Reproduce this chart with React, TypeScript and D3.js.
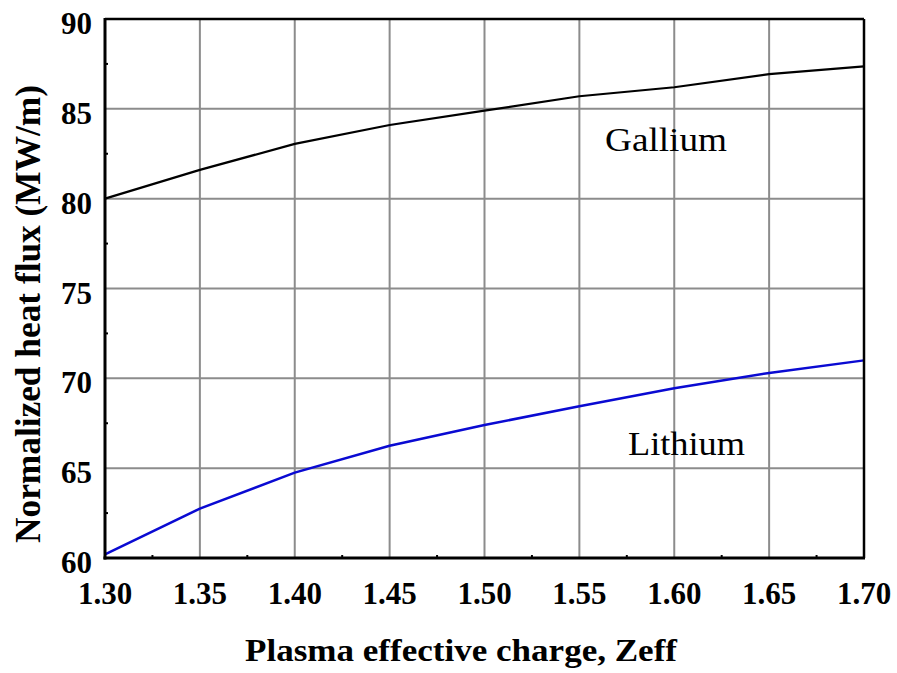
import React from "react";
import * as d3 from "d3";

// Plasma effective charge (Zeff) sample points
const zeff = [1.3, 1.35, 1.4, 1.45, 1.5, 1.55, 1.6, 1.65, 1.7];
// Normalized heat flux (MW/m) for each divertor liquid metal
const gallium = [80.0, 81.6, 83.05, 84.1, 84.9, 85.7, 86.2, 86.93, 87.36];
const lithium = [60.2, 62.75, 64.75, 66.25, 67.4, 68.45, 69.45, 70.3, 71.0];

const xTicks = [1.3, 1.35, 1.4, 1.45, 1.5, 1.55, 1.6, 1.65, 1.7];
const yTicks = [60, 65, 70, 75, 80, 85, 90];

const W = 897;
const H = 673;
const left = 105;
const right = 864;
const top = 19;
const bottom = 558;

export default function App() {
  const x = d3.scaleLinear().domain([1.3, 1.7]).range([left, right]);
  const y = d3.scaleLinear().domain([60, 90]).range([bottom, top]);

  const line = d3
    .line<number>()
    .x((_, i) => x(zeff[i]))
    .y((v) => y(v));

  const minorX = d3.range(8).map((i) => 1.325 + i * 0.05);
  const minorY = d3.range(6).map((i) => 62.5 + i * 5);

  const tickFont = "'Liberation Serif', 'Times New Roman', serif";

  return (
    <svg
      width={W}
      height={H}
      style={{ position: "absolute", left: 0, top: 0, background: "#fff" }}
    >
      {/* grid */}
      {xTicks.slice(1, -1).map((t) => (
        <line
          key={"gx" + t}
          x1={x(t)}
          x2={x(t)}
          y1={top}
          y2={bottom}
          stroke="#8c8c8c"
          strokeWidth={2}
        />
      ))}
      {yTicks.slice(1, -1).map((t) => (
        <line
          key={"gy" + t}
          x1={left}
          x2={right}
          y1={y(t)}
          y2={y(t)}
          stroke="#8c8c8c"
          strokeWidth={2}
        />
      ))}

      {/* minor ticks along the axes */}
      {minorX.map((t) => (
        <line
          key={"mx" + t}
          x1={x(t)}
          x2={x(t)}
          y1={bottom}
          y2={bottom - 3}
          stroke="#000"
          strokeWidth={2}
        />
      ))}
      {minorY.map((t) => (
        <line
          key={"my" + t}
          x1={left}
          x2={left + 3}
          y1={y(t)}
          y2={y(t)}
          stroke="#000"
          strokeWidth={2}
        />
      ))}

      {/* data lines */}
      <path d={line(gallium) ?? ""} fill="none" stroke="#000" strokeWidth={2.2} />
      <path d={line(lithium) ?? ""} fill="none" stroke="#0a0ad2" strokeWidth={2.5} />

      {/* frame */}
      <line x1={left} x2={right} y1={top} y2={top} stroke="#000" strokeWidth={2.5} />
      <line x1={right} x2={right} y1={top} y2={bottom} stroke="#000" strokeWidth={2.5} />
      <line x1={left} x2={left} y1={top - 1} y2={bottom + 1.5} stroke="#000" strokeWidth={3} />
      <line x1={left - 1.5} x2={right + 1} y1={bottom} y2={bottom} stroke="#000" strokeWidth={3} />

      {/* tick labels */}
      {yTicks.map((t) => (
        <text
          key={"ly" + t}
          x={left - 13}
          y={y(t) + 15}
          textAnchor="end"
          fontFamily={tickFont}
          fontWeight="bold"
          fontSize={31}
          fill="#000"
        >
          {t}
        </text>
      ))}
      {xTicks.map((t) => (
        <text
          key={"lx" + t}
          x={x(t)}
          y={604}
          textAnchor="middle"
          fontFamily={tickFont}
          fontWeight="bold"
          fontSize={31}
          fill="#000"
        >
          {t.toFixed(2)}
        </text>
      ))}

      {/* series labels */}
      <text
        x={605}
        y={151}
        fontFamily={tickFont}
        fontSize={33}
        textLength={122}
        lengthAdjust="spacingAndGlyphs"
        fill="#000"
      >
        Gallium
      </text>
      <text
        x={628}
        y={455}
        fontFamily={tickFont}
        fontSize={33}
        textLength={117}
        lengthAdjust="spacingAndGlyphs"
        fill="#000"
      >
        Lithium
      </text>

      {/* axis titles */}
      <text
        x={245}
        y={661}
        fontFamily={tickFont}
        fontWeight="bold"
        fontSize={32}
        textLength={432}
        lengthAdjust="spacingAndGlyphs"
        fill="#000"
      >
        Plasma effective charge, Zeff
      </text>
      <text
        transform={`translate(40, 543) rotate(-90)`}
        fontFamily={tickFont}
        fontWeight="bold"
        fontSize={35}
        textLength={458}
        lengthAdjust="spacingAndGlyphs"
        fill="#000"
      >
        Normalized heat flux (MW/m)
      </text>
    </svg>
  );
}
